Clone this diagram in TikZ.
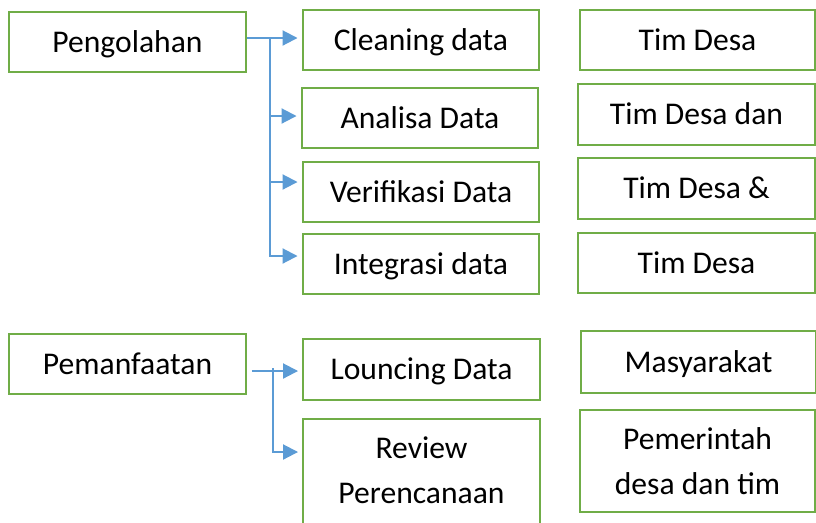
\documentclass[tikz,border=0pt]{standalone}
\usepackage{fontspec}
\setmainfont{Carlito}
\usetikzlibrary{arrows.meta}
\definecolor{boxgreen}{HTML}{70AD47}
\definecolor{lineblue}{HTML}{5B9BD5}
\begin{document}
\begin{tikzpicture}[x=0.75pt,y=-0.75pt,
  box/.style={draw=boxgreen, line width=1.7pt, inner sep=0pt,
    minimum width=177.5pt, minimum height=45pt,
    font=\fontsize{23.7}{33.75}\selectfont, align=center},
  single/.style={box, text height=20pt, text depth=5pt},
  txt/.style={inner sep=0pt, font=\fontsize{23.7}{33.75}\selectfont, align=center},
  conn/.style={draw=lineblue, line width=1.5pt},
  arr/.style={conn, -{Triangle[length=11.25pt,width=11.25pt]}, shorten >=3pt}]
\useasboundingbox (0,0) rectangle (816,522);
\clip (0,0) rectangle (816,522);
% left column
\node[single] (peng) at (127.5,42) {Pengolahan};
\node[single] (peman) at (127.5,364) {Pemanfaatan};
% middle column
\node[single] (clean) at (421,40) {Cleaning data};
\node[single] (anal) at (420,118) {Analisa Data};
\node[single] (veri) at (421,192) {Verifikasi Data};
\node[single] (integ) at (421,264) {Integrasi data};
\node[single, minimum height=45.75pt] (lounc) at (421.5,369.5) {Louncing Data};
\node[box, minimum height=87pt] (review) at (421.5,477) {};
\node[txt] (reviewtext) at (421.5,470) {Review\\Perencanaan};
% right column
\node[single, minimum width=176.25pt] (tim1) at (697.5,40) {Tim Desa};
\node[single, minimum width=177.75pt, minimum height=45.75pt] (tim2) at (696.5,114.5) {Tim Desa dan};
\node[single, minimum width=177.75pt, minimum height=45.75pt] (tim3) at (696.5,188.5) {Tim Desa \&};
\node[single, minimum width=177.75pt] (tim4) at (696.5,263) {Tim Desa};
\node[single, minimum width=176.25pt, minimum height=46.5pt] (masy) at (698.5,362) {Masyarakat};
\node[box, minimum width=176.25pt, minimum height=76.5pt] (pemer) at (697.5,461) {Pemerintah\\desa dan tim};
% connectors: Pengolahan
\coordinate (hub1) at (270,38);
\coordinate (b1) at (270,116);
\coordinate (b2) at (270,182);
\coordinate (b3) at (270,256);
\draw[arr] (peng.east |- hub1) -- (clean.west |- hub1);
\draw[arr] (hub1) -- (b3) -- (integ.west |- b3);
\draw[arr] (b1) -- (anal.west |- b1);
\draw[arr] (b2) -- (veri.west |- b2);
% connectors: Pemanfaatan
\coordinate (hub2) at (273,371);
\coordinate (b4) at (273,452);
\draw[arr] ([xshift=3.75pt]peman.east |- hub2) -- (lounc.west |- hub2);
\draw[arr] ([yshift=2.25pt]hub2) -- (b4) -- (review.west |- b4);
\end{tikzpicture}
\end{document}
